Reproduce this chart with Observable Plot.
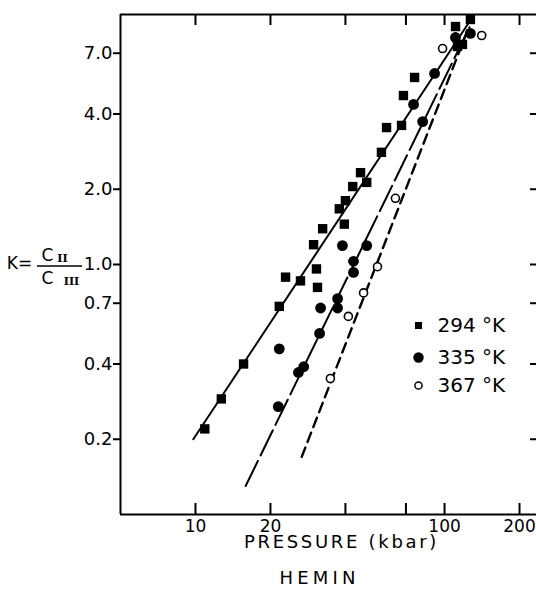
<!DOCTYPE html>
<html><head><meta charset="utf-8">
<script src="https://cdn.jsdelivr.net/npm/d3@7"></script>
<script src="https://cdn.jsdelivr.net/npm/@observablehq/plot@0.6"></script>
<style>
html,body{margin:0;padding:0;background:#fff;}
svg{display:block}
</style></head><body><div id="chart"></div>
<script>
// axis ticks
const xTicks = [10, 20, 40, 70, 100, 200];
const xTickLabels = ["10", "20", "40", "70", "100", "200"];
const yTicks = [0.2, 0.4, 0.7, 1, 2, 4, 7];
const yTickLabels = ["0.2", "0.4", "0.7", "1.0", "2.0", "4.0", "7.0"];

// 294 K (filled squares)
const pressure294 = [10.9, 12.7, 15.6, 21.7, 23.0, 26.4, 29.8, 30.6, 30.9, 32.4, 37.8, 40.0, 39.6, 42.8, 46.0, 48.7, 55.8, 58.5, 67.2, 68.4, 75.8, 110.7, 127, 112.7, 118];
const k294 = [0.22, 0.29, 0.40, 0.68, 0.89, 0.86, 1.20, 0.96, 0.81, 1.39, 1.67, 1.80, 1.45, 2.05, 2.33, 2.13, 2.81, 3.53, 3.60, 4.74, 5.60, 8.95, 9.55, 7.45, 7.59];
// 335 K (filled circles)
const pressure335 = [21.5, 25.9, 27.2, 21.7, 31.5, 31.8, 37.2, 37.2, 43.1, 43.1, 38.9, 48.7, 75.1, 81.7, 91.2, 110.6, 127];
const k335 = [0.27, 0.37, 0.39, 0.46, 0.53, 0.67, 0.67, 0.73, 0.93, 1.03, 1.19, 1.19, 4.37, 3.73, 5.81, 8.09, 8.4];
// 367 K (open circles)
const pressure367 = [34.8, 41.1, 47.3, 53.8, 63.5, 98.2, 141];
const k367 = [0.35, 0.62, 0.77, 0.98, 1.84, 7.31, 8.24];

// fitted lines (end points)
const line294P = [9.8, 129], line294K = [0.20, 9.7];
const line335P = [15.9, 126], line335K = [0.13, 8.9];
const line367P = [26.7, 124], line367K = [0.17, 8.7];

const legendLabels = ["294 °K", "335 °K", "367 °K"];
const xLabel = "PRESSURE (kbar)";
const title = "HEMIN";

const zip = (ps, ks) => ps.map((p, i) => ({p, k: ks[i]}));

const FONT = "DejaVu Sans";
const W = 536, H = 596, mT = 14, mB = 82, mL = 120, mR = 0;
const frameH = H - mT - mB;
const frameW = W - mL - mR;

const legendMarks = [
  {symbol: "square", fill: "black", stroke: "none", r: 4.0, sw: 0},
  {symbol: "circle", fill: "black", stroke: "none", r: 5.2, sw: 0},
  {symbol: "circle", fill: "white", stroke: "black", r: 3.6, sw: 1.5}
];
const legendY = [325, 357, 385];

// fraction bar of the y label (decoration)
function fractionBar(index, scales, values, dims) {
  const l = document.createElementNS("http://www.w3.org/2000/svg", "line");
  const yMid = (dims.marginTop + dims.height - dims.marginBottom) / 2 + 2;
  l.setAttribute("x1", 37); l.setAttribute("x2", 82);
  l.setAttribute("y1", yMid); l.setAttribute("y2", yMid);
  l.setAttribute("stroke", "black"); l.setAttribute("stroke-width", 1.6);
  return l;
}

const chart = Plot.plot({
  width: W, height: H,
  marginTop: mT, marginBottom: mB, marginLeft: mL, marginRight: mR,
  x: {type: "log", domain: [5, 234]},
  y: {type: "log", domain: [0.1, 10]},
  marks: [
    // frame lines
    Plot.ruleX([5], {strokeWidth: 2}),
    Plot.ruleY([0.1], {strokeWidth: 2}),
    Plot.ruleY([10], {strokeWidth: 2}),
    // left axis
    Plot.axisY(yTicks, {anchor: "left", tickSize: 7, tickPadding: 1, strokeWidth: 2,
      tickFormat: d => yTickLabels[yTicks.indexOf(d)], fontSize: 18, label: null}),
    // bottom axis labels
    Plot.axisX(xTicks, {anchor: "bottom", tickSize: 0, tickPadding: 5,
      tickFormat: d => xTickLabels[xTicks.indexOf(d)], fontSize: 17, label: null}),
    // inside ticks (top, bottom, right)
    Plot.ruleX(xTicks, {x: d => d, insetBottom: frameH - 11, strokeWidth: 2}),
    Plot.ruleX(xTicks, {x: d => d, insetTop: frameH - 11, strokeWidth: 2}),
    Plot.ruleY(yTicks, {y: d => d, insetLeft: frameW - 6, strokeWidth: 2}),
    // fit lines
    Plot.line(zip(line294P, line294K), {x: "p", y: "k", strokeWidth: 2}),
    Plot.line(zip(line335P, line335K), {x: "p", y: "k", strokeWidth: 2, strokeDasharray: "28,6"}),
    Plot.line(zip(line367P, line367K), {x: "p", y: "k", strokeWidth: 2.4, strokeDasharray: "10,6"}),
    // data
    Plot.dot(zip(pressure294, k294), {x: "p", y: "k", symbol: "square", fill: "black", r: 5.3}),
    Plot.dot(zip(pressure335, k335), {x: "p", y: "k", symbol: "circle", fill: "black", r: 5.4}),
    Plot.dot(zip(pressure367, k367), {x: "p", y: "k", symbol: "circle", fill: "white", stroke: "black", strokeWidth: 1.6, r: 4.0}),
    // legend
    ...legendLabels.flatMap((lab, i) => [
      Plot.dot([lab], {frameAnchor: "top-left", dx: 418 - mL, dy: legendY[i] - mT,
        symbol: legendMarks[i].symbol, fill: legendMarks[i].fill, stroke: legendMarks[i].stroke,
        strokeWidth: legendMarks[i].sw, r: legendMarks[i].r}),
      Plot.text([lab], {frameAnchor: "top-left", dx: 437 - mL, dy: legendY[i] - mT,
        textAnchor: "start", lineAnchor: "middle", fontSize: 20})
    ]),
    // x label and title
    Plot.text([xLabel], {frameAnchor: "bottom", textAnchor: "middle", dx: 13, dy: 28, lineAnchor: "middle", fontSize: 18}),
    Plot.text([title], {frameAnchor: "bottom", textAnchor: "middle", dx: -9, dy: 64, lineAnchor: "middle", fontSize: 18}),
    // y label K = C_II / C_III
    Plot.text(["K="], {frameAnchor: "left", textAnchor: "middle", dx: 19 - mL, dy: -1, lineAnchor: "middle", fontSize: 17}),
    Plot.text(["C"], {frameAnchor: "left", textAnchor: "middle", dx: 47 - mL, dy: -9, lineAnchor: "middle", fontSize: 17}),
    Plot.text(["II"], {frameAnchor: "left", textAnchor: "middle", dx: 62 - mL, dy: -6, lineAnchor: "middle", fontSize: 11, fontWeight: "bold", fontFamily: "DejaVu Serif"}),
    fractionBar,
    Plot.text(["C"], {frameAnchor: "left", textAnchor: "middle", dx: 47 - mL, dy: 14, lineAnchor: "middle", fontSize: 17}),
    Plot.text(["III"], {frameAnchor: "left", textAnchor: "middle", dx: 71 - mL, dy: 17, lineAnchor: "middle", fontSize: 11, fontWeight: "bold", fontFamily: "DejaVu Serif"})
  ]
});
chart.setAttribute("font-family", FONT);
d3.select(chart).selectAll("text").each(function() {
  const t = this.textContent;
  if (t === xLabel) this.style.letterSpacing = "2.7px";
  if (t === title) this.style.letterSpacing = "4.2px";
});
document.getElementById("chart").appendChild(chart);
</script>
</body></html>
